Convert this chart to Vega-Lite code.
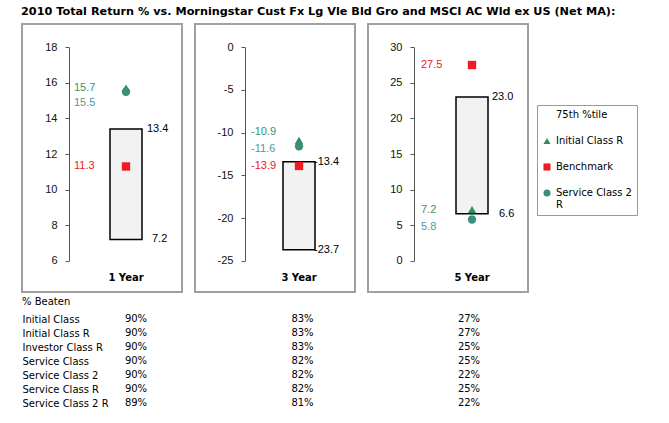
{
  "$schema": "https://vega.github.io/schema/vega-lite/v6.json",
  "padding": {"left": 21, "top": 5, "right": 5, "bottom": 5},
  "background": "white",
  "title": {"text": "2010 Total Return % vs. Morningstar Cust Fx Lg Vle Bld Gro and MSCI AC Wld ex US (Net MA):", "anchor": "start", "font": "DejaVu Sans", "fontSize": 11.25, "fontWeight": "bold", "color": "#000", "offset": 6},
  "config": {
    "view": {"stroke": "#a0a0a0", "strokeWidth": 2, "fill": "white"},
    "font": "DejaVu Sans",
    "axisY": {"title": null, "grid": false, "tickSize": 4, "labelPadding": 8, "labelFlush": false, "domainColor": "#555", "tickColor": "#555", "labelColor": "#111", "labelFont": "Liberation Sans", "labelFontSize": 11, "labelExpr": "replace(datum.label, '−', '-')"}
  },
  "datasets": {
    "boxes": [
      {"period": "1 Year", "low": 7.2, "high": 13.4},
      {"period": "3 Year", "low": -23.7, "high": -13.4},
      {"period": "5 Year", "low": 6.6, "high": 23.0}
    ],
    "points": [
      {"period": "1 Year", "series": "Initial Class R", "value": 15.7},
      {"period": "1 Year", "series": "Benchmark", "value": 11.3},
      {"period": "1 Year", "series": "Service Class 2 R", "value": 15.5},
      {"period": "3 Year", "series": "Initial Class R", "value": -10.9},
      {"period": "3 Year", "series": "Benchmark", "value": -13.9},
      {"period": "3 Year", "series": "Service Class 2 R", "value": -11.6},
      {"period": "5 Year", "series": "Initial Class R", "value": 7.2},
      {"period": "5 Year", "series": "Benchmark", "value": 27.5},
      {"period": "5 Year", "series": "Service Class 2 R", "value": 5.8}
    ],
    "beaten": [
      {"cls": "Initial Class", "period": "1 Year", "pct": "90%"},
      {"cls": "Initial Class", "period": "3 Year", "pct": "83%"},
      {"cls": "Initial Class", "period": "5 Year", "pct": "27%"},
      {"cls": "Initial Class R", "period": "1 Year", "pct": "90%"},
      {"cls": "Initial Class R", "period": "3 Year", "pct": "83%"},
      {"cls": "Initial Class R", "period": "5 Year", "pct": "27%"},
      {"cls": "Investor Class R", "period": "1 Year", "pct": "90%"},
      {"cls": "Investor Class R", "period": "3 Year", "pct": "83%"},
      {"cls": "Investor Class R", "period": "5 Year", "pct": "25%"},
      {"cls": "Service Class", "period": "1 Year", "pct": "90%"},
      {"cls": "Service Class", "period": "3 Year", "pct": "82%"},
      {"cls": "Service Class", "period": "5 Year", "pct": "25%"},
      {"cls": "Service Class 2", "period": "1 Year", "pct": "90%"},
      {"cls": "Service Class 2", "period": "3 Year", "pct": "82%"},
      {"cls": "Service Class 2", "period": "5 Year", "pct": "22%"},
      {"cls": "Service Class R", "period": "1 Year", "pct": "90%"},
      {"cls": "Service Class R", "period": "3 Year", "pct": "82%"},
      {"cls": "Service Class R", "period": "5 Year", "pct": "25%"},
      {"cls": "Service Class 2 R", "period": "1 Year", "pct": "89%"},
      {"cls": "Service Class 2 R", "period": "3 Year", "pct": "81%"},
      {"cls": "Service Class 2 R", "period": "5 Year", "pct": "22%"}
    ]
  },
  "vconcat": [
    {
      "hconcat": [
        {
          "width": 160, "height": 268,
          "encoding": {"x": {"field": "period", "type": "nominal", "scale": {"range": [88, 120], "paddingInner": 0, "paddingOuter": 0}, "axis": {"title": null, "orient": "bottom", "offset": -20, "domain": false, "ticks": false, "tickSize": 0, "labelPadding": 0, "labelAngle": 0, "labelFont": "DejaVu Sans", "labelFontWeight": "bold", "labelFontSize": 10, "labelColor": "#000"}}},
          "layer": [
            {"data": {"name": "boxes"}, "transform": [{"filter": "datum.period == '1 Year'"}],
             "mark": {"type": "bar", "fill": "#f2f2f2", "stroke": "#000", "strokeWidth": 1.5},
             "encoding": {"y": {"field": "high", "type": "quantitative", "scale": {"domain": [6, 18], "range": [236.8, 23.2], "nice": false, "zero": false}, "axis": {"title": null, "offset": -47, "values": [6, 8, 10, 12, 14, 16, 18]}}, "y2": {"field": "low"}}},
            {"data": {"name": "boxes"}, "transform": [{"filter": "datum.period == '1 Year'"}, {"calculate": "replace(format(datum.high, '.1f'), '−', '-')", "as": "lab"}],
             "mark": {"type": "text", "align": "left", "baseline": "middle", "dx": 21, "font": "Liberation Sans", "fontSize": 11, "color": "#000"},
             "encoding": {"y": {"field": "high", "type": "quantitative", "scale": {"domain": [6, 18], "range": [236.8, 23.2], "nice": false, "zero": false}, "axis": {"title": null, "offset": -47, "values": [6, 8, 10, 12, 14, 16, 18]}}, "text": {"field": "lab"}}},
            {"data": {"name": "boxes"}, "transform": [{"filter": "datum.period == '1 Year'"}, {"calculate": "replace(format(datum.low, '.1f'), '−', '-')", "as": "lab"}],
             "mark": {"type": "text", "align": "left", "baseline": "middle", "dx": 26, "font": "Liberation Sans", "fontSize": 11, "color": "#000"},
             "encoding": {"y": {"field": "low", "type": "quantitative", "scale": {"domain": [6, 18], "range": [236.8, 23.2], "nice": false, "zero": false}, "axis": {"title": null, "offset": -47, "values": [6, 8, 10, 12, 14, 16, 18]}}, "text": {"field": "lab"}}},
            {"data": {"name": "points"}, "transform": [{"filter": "datum.period == '1 Year'"}],
             "mark": {"type": "point", "filled": true, "opacity": 1, "strokeWidth": 0, "size": 70},
             "encoding": {"y": {"field": "value", "type": "quantitative", "scale": {"domain": [6, 18], "range": [236.8, 23.2], "nice": false, "zero": false}, "axis": {"title": null, "offset": -47, "values": [6, 8, 10, 12, 14, 16, 18]}},
               "color": {"field": "series", "type": "nominal", "scale": {"domain": ["75th %tile", "Initial Class R", "Benchmark", "Service Class 2 R"], "range": ["white", "#2f8f5f", "#ee1c25", "#3a8f7a"]}, "legend": null},
               "shape": {"field": "series", "type": "nominal", "scale": {"domain": ["75th %tile", "Initial Class R", "Benchmark", "Service Class 2 R"], "range": ["square", "triangle-up", "square", "circle"]}, "legend": null}}},
            {"data": {"name": "points"}, "transform": [{"filter": "datum.period == '1 Year' && datum.series == 'Initial Class R'"}, {"calculate": "replace(format(datum.value, '.1f'), '−', '-')", "as": "lab"}],
             "mark": {"type": "text", "align": "left", "baseline": "middle", "dx": -52, "dy": 0, "font": "Liberation Sans", "fontSize": 11, "color": "#3a9468"},
             "encoding": {"y": {"field": "value", "type": "quantitative", "scale": {"domain": [6, 18], "range": [236.8, 23.2], "nice": false, "zero": false}, "axis": {"title": null, "offset": -47, "values": [6, 8, 10, 12, 14, 16, 18]}}, "text": {"field": "lab"}}},
            {"data": {"name": "points"}, "transform": [{"filter": "datum.period == '1 Year' && datum.series == 'Service Class 2 R'"}, {"calculate": "replace(format(datum.value, '.1f'), '−', '-')", "as": "lab"}],
             "mark": {"type": "text", "align": "left", "baseline": "middle", "dx": -52, "dy": 11, "font": "Liberation Sans", "fontSize": 11, "color": "#4f9c98"},
             "encoding": {"y": {"field": "value", "type": "quantitative", "scale": {"domain": [6, 18], "range": [236.8, 23.2], "nice": false, "zero": false}, "axis": {"title": null, "offset": -47, "values": [6, 8, 10, 12, 14, 16, 18]}}, "text": {"field": "lab"}}},
            {"data": {"name": "points"}, "transform": [{"filter": "datum.period == '1 Year' && datum.series == 'Benchmark'"}, {"calculate": "replace(format(datum.value, '.1f'), '−', '-')", "as": "lab"}],
             "mark": {"type": "text", "align": "left", "baseline": "middle", "dx": -52, "dy": 0, "font": "Liberation Sans", "fontSize": 11, "color": "#e8202a"},
             "encoding": {"y": {"field": "value", "type": "quantitative", "scale": {"domain": [6, 18], "range": [236.8, 23.2], "nice": false, "zero": false}, "axis": {"title": null, "offset": -47, "values": [6, 8, 10, 12, 14, 16, 18]}}, "text": {"field": "lab"}}}
          ]
        },
        {
          "width": 160, "height": 268,
          "encoding": {"x": {"field": "period", "type": "nominal", "scale": {"range": [88, 120], "paddingInner": 0, "paddingOuter": 0}, "axis": {"title": null, "orient": "bottom", "offset": -20, "domain": false, "ticks": false, "tickSize": 0, "labelPadding": 0, "labelAngle": 0, "labelFont": "DejaVu Sans", "labelFontWeight": "bold", "labelFontSize": 10, "labelColor": "#000"}}},
          "layer": [
            {"data": {"name": "boxes"}, "transform": [{"filter": "datum.period == '3 Year'"}],
             "mark": {"type": "bar", "fill": "#f2f2f2", "stroke": "#000", "strokeWidth": 1.5},
             "encoding": {"y": {"field": "high", "type": "quantitative", "scale": {"domain": [-25, 0], "range": [236.8, 23.2], "nice": false, "zero": false}, "axis": {"title": null, "offset": -50, "values": [-25, -20, -15, -10, -5, 0]}}, "y2": {"field": "low"}}},
            {"data": {"name": "boxes"}, "transform": [{"filter": "datum.period == '3 Year'"}, {"calculate": "replace(format(datum.high, '.1f'), '−', '-')", "as": "lab"}],
             "mark": {"type": "text", "align": "left", "baseline": "middle", "dx": 15, "font": "Liberation Sans", "fontSize": 11, "color": "#000"},
             "encoding": {"y": {"field": "high", "type": "quantitative", "scale": {"domain": [-25, 0], "range": [236.8, 23.2], "nice": false, "zero": false}, "axis": {"title": null, "offset": -50, "values": [-25, -20, -15, -10, -5, 0]}}, "text": {"field": "lab"}}},
            {"data": {"name": "boxes"}, "transform": [{"filter": "datum.period == '3 Year'"}, {"calculate": "replace(format(datum.low, '.1f'), '−', '-')", "as": "lab"}],
             "mark": {"type": "text", "align": "left", "baseline": "middle", "dx": 15, "font": "Liberation Sans", "fontSize": 11, "color": "#000"},
             "encoding": {"y": {"field": "low", "type": "quantitative", "scale": {"domain": [-25, 0], "range": [236.8, 23.2], "nice": false, "zero": false}, "axis": {"title": null, "offset": -50, "values": [-25, -20, -15, -10, -5, 0]}}, "text": {"field": "lab"}}},
            {"data": {"name": "points"}, "transform": [{"filter": "datum.period == '3 Year'"}],
             "mark": {"type": "point", "filled": true, "opacity": 1, "strokeWidth": 0, "size": 70},
             "encoding": {"y": {"field": "value", "type": "quantitative", "scale": {"domain": [-25, 0], "range": [236.8, 23.2], "nice": false, "zero": false}, "axis": {"title": null, "offset": -50, "values": [-25, -20, -15, -10, -5, 0]}},
               "color": {"field": "series", "type": "nominal", "scale": {"domain": ["75th %tile", "Initial Class R", "Benchmark", "Service Class 2 R"], "range": ["white", "#2f8f5f", "#ee1c25", "#3a8f7a"]}, "legend": null},
               "shape": {"field": "series", "type": "nominal", "scale": {"domain": ["75th %tile", "Initial Class R", "Benchmark", "Service Class 2 R"], "range": ["square", "triangle-up", "square", "circle"]}, "legend": null}}},
            {"data": {"name": "points"}, "transform": [{"filter": "datum.period == '3 Year' && datum.series == 'Initial Class R'"}, {"calculate": "replace(format(datum.value, '.1f'), '−', '-')", "as": "lab"}],
             "mark": {"type": "text", "align": "left", "baseline": "middle", "dx": -48, "dy": -8, "font": "Liberation Sans", "fontSize": 11, "color": "#3a9468"},
             "encoding": {"y": {"field": "value", "type": "quantitative", "scale": {"domain": [-25, 0], "range": [236.8, 23.2], "nice": false, "zero": false}, "axis": {"title": null, "offset": -50, "values": [-25, -20, -15, -10, -5, 0]}}, "text": {"field": "lab"}}},
            {"data": {"name": "points"}, "transform": [{"filter": "datum.period == '3 Year' && datum.series == 'Service Class 2 R'"}, {"calculate": "replace(format(datum.value, '.1f'), '−', '-')", "as": "lab"}],
             "mark": {"type": "text", "align": "left", "baseline": "middle", "dx": -48, "dy": 3, "font": "Liberation Sans", "fontSize": 11, "color": "#4f9c98"},
             "encoding": {"y": {"field": "value", "type": "quantitative", "scale": {"domain": [-25, 0], "range": [236.8, 23.2], "nice": false, "zero": false}, "axis": {"title": null, "offset": -50, "values": [-25, -20, -15, -10, -5, 0]}}, "text": {"field": "lab"}}},
            {"data": {"name": "points"}, "transform": [{"filter": "datum.period == '3 Year' && datum.series == 'Benchmark'"}, {"calculate": "replace(format(datum.value, '.1f'), '−', '-')", "as": "lab"}],
             "mark": {"type": "text", "align": "left", "baseline": "middle", "dx": -48, "dy": 0, "font": "Liberation Sans", "fontSize": 11, "color": "#e8202a"},
             "encoding": {"y": {"field": "value", "type": "quantitative", "scale": {"domain": [-25, 0], "range": [236.8, 23.2], "nice": false, "zero": false}, "axis": {"title": null, "offset": -50, "values": [-25, -20, -15, -10, -5, 0]}}, "text": {"field": "lab"}}}
          ]
        },
        {
          "width": 160, "height": 268,
          "encoding": {"x": {"field": "period", "type": "nominal", "scale": {"range": [88, 120], "paddingInner": 0, "paddingOuter": 0}, "axis": {"title": null, "orient": "bottom", "offset": -20, "domain": false, "ticks": false, "tickSize": 0, "labelPadding": 0, "labelAngle": 0, "labelFont": "DejaVu Sans", "labelFontWeight": "bold", "labelFontSize": 10, "labelColor": "#000"}}},
          "layer": [
            {"data": {"name": "boxes"}, "transform": [{"filter": "datum.period == '5 Year'"}],
             "mark": {"type": "bar", "fill": "#f2f2f2", "stroke": "#000", "strokeWidth": 1.5},
             "encoding": {"y": {"field": "high", "type": "quantitative", "scale": {"domain": [0, 30], "range": [236.8, 23.2], "nice": false, "zero": false}, "axis": {"title": null, "offset": -46, "values": [0, 5, 10, 15, 20, 25, 30]}}, "y2": {"field": "low"}}},
            {"data": {"name": "boxes"}, "transform": [{"filter": "datum.period == '5 Year'"}, {"calculate": "replace(format(datum.high, '.1f'), '−', '-')", "as": "lab"}],
             "mark": {"type": "text", "align": "left", "baseline": "middle", "dx": 20, "font": "Liberation Sans", "fontSize": 11, "color": "#000"},
             "encoding": {"y": {"field": "high", "type": "quantitative", "scale": {"domain": [0, 30], "range": [236.8, 23.2], "nice": false, "zero": false}, "axis": {"title": null, "offset": -46, "values": [0, 5, 10, 15, 20, 25, 30]}}, "text": {"field": "lab"}}},
            {"data": {"name": "boxes"}, "transform": [{"filter": "datum.period == '5 Year'"}, {"calculate": "replace(format(datum.low, '.1f'), '−', '-')", "as": "lab"}],
             "mark": {"type": "text", "align": "left", "baseline": "middle", "dx": 27, "font": "Liberation Sans", "fontSize": 11, "color": "#000"},
             "encoding": {"y": {"field": "low", "type": "quantitative", "scale": {"domain": [0, 30], "range": [236.8, 23.2], "nice": false, "zero": false}, "axis": {"title": null, "offset": -46, "values": [0, 5, 10, 15, 20, 25, 30]}}, "text": {"field": "lab"}}},
            {"data": {"name": "points"}, "transform": [{"filter": "datum.period == '5 Year'"}],
             "mark": {"type": "point", "filled": true, "opacity": 1, "strokeWidth": 0, "size": 70},
             "encoding": {"y": {"field": "value", "type": "quantitative", "scale": {"domain": [0, 30], "range": [236.8, 23.2], "nice": false, "zero": false}, "axis": {"title": null, "offset": -46, "values": [0, 5, 10, 15, 20, 25, 30]}},
               "color": {"field": "series", "type": "nominal", "scale": {"domain": ["75th %tile", "Initial Class R", "Benchmark", "Service Class 2 R"], "range": ["white", "#2f8f5f", "#ee1c25", "#3a8f7a"]},
                 "legend": {"title": null, "orient": "none", "legendX": 169, "legendY": 81, "strokeColor": "#999", "fillColor": "white", "padding": 5, "rowPadding": 16, "symbolSize": 50, "symbolStrokeWidth": 0, "labelFont": "DejaVu Sans", "labelFontSize": 10, "labelColor": "#000", "labelOffset": 4, "labelLimit": 200, "labelExpr": "datum.label == 'Service Class 2 R' ? ['Service Class 2', 'R'] : datum.label"}},
               "shape": {"field": "series", "type": "nominal", "scale": {"domain": ["75th %tile", "Initial Class R", "Benchmark", "Service Class 2 R"], "range": ["square", "triangle-up", "square", "circle"]},
                 "legend": {"title": null, "orient": "none", "legendX": 169, "legendY": 81, "strokeColor": "#999", "fillColor": "white", "padding": 5, "rowPadding": 16, "symbolSize": 50, "symbolStrokeWidth": 0, "labelFont": "DejaVu Sans", "labelFontSize": 10, "labelColor": "#000", "labelOffset": 4, "labelLimit": 200, "labelExpr": "datum.label == 'Service Class 2 R' ? ['Service Class 2', 'R'] : datum.label"}}}},
            {"data": {"name": "points"}, "transform": [{"filter": "datum.period == '5 Year' && datum.series == 'Initial Class R'"}, {"calculate": "replace(format(datum.value, '.1f'), '−', '-')", "as": "lab"}],
             "mark": {"type": "text", "align": "left", "baseline": "middle", "dx": -51, "dy": 0, "font": "Liberation Sans", "fontSize": 11, "color": "#3a9468"},
             "encoding": {"y": {"field": "value", "type": "quantitative", "scale": {"domain": [0, 30], "range": [236.8, 23.2], "nice": false, "zero": false}, "axis": {"title": null, "offset": -46, "values": [0, 5, 10, 15, 20, 25, 30]}}, "text": {"field": "lab"}}},
            {"data": {"name": "points"}, "transform": [{"filter": "datum.period == '5 Year' && datum.series == 'Service Class 2 R'"}, {"calculate": "replace(format(datum.value, '.1f'), '−', '-')", "as": "lab"}],
             "mark": {"type": "text", "align": "left", "baseline": "middle", "dx": -51, "dy": 7, "font": "Liberation Sans", "fontSize": 11, "color": "#4f9c98"},
             "encoding": {"y": {"field": "value", "type": "quantitative", "scale": {"domain": [0, 30], "range": [236.8, 23.2], "nice": false, "zero": false}, "axis": {"title": null, "offset": -46, "values": [0, 5, 10, 15, 20, 25, 30]}}, "text": {"field": "lab"}}},
            {"data": {"name": "points"}, "transform": [{"filter": "datum.period == '5 Year' && datum.series == 'Benchmark'"}, {"calculate": "replace(format(datum.value, '.1f'), '−', '-')", "as": "lab"}],
             "mark": {"type": "text", "align": "left", "baseline": "middle", "dx": -51, "dy": 0, "font": "Liberation Sans", "fontSize": 11, "color": "#e8202a"},
             "encoding": {"y": {"field": "value", "type": "quantitative", "scale": {"domain": [0, 30], "range": [236.8, 23.2], "nice": false, "zero": false}, "axis": {"title": null, "offset": -46, "values": [0, 5, 10, 15, 20, 25, 30]}}, "text": {"field": "lab"}}}
          ]
        }
      ],
      "spacing": 11,
      "resolve": {"scale": {"color": "independent", "shape": "independent"}}
    },
    {
      "data": {"name": "beaten"},
      "title": {"text": "% Beaten", "anchor": "start", "frame": "bounds", "font": "DejaVu Sans", "fontSize": 10, "fontWeight": "normal", "color": "#000", "offset": 5},
      "view": {"stroke": null, "fill": null},
      "width": 470, "height": 98,
      "mark": {"type": "text", "align": "center", "baseline": "middle", "font": "DejaVu Sans", "fontSize": 10, "color": "#000"},
      "encoding": {
        "y": {"field": "cls", "type": "nominal", "sort": null, "scale": {"paddingInner": 0, "paddingOuter": 0}, "axis": {"title": null, "domain": false, "ticks": false, "tickSize": 0, "labelAlign": "left", "labelPadding": 0, "labelFont": "DejaVu Sans", "labelFontSize": 10, "labelColor": "#000", "labelLimit": 200}},
        "x": {"field": "period", "type": "ordinal", "scale": {"type": "point", "range": [114, 447], "padding": 0}, "axis": null},
        "text": {"field": "pct"}
      }
    }
  ],
  "spacing": 4,
  "resolve": {"scale": {"color": "independent", "shape": "independent"}}
}
